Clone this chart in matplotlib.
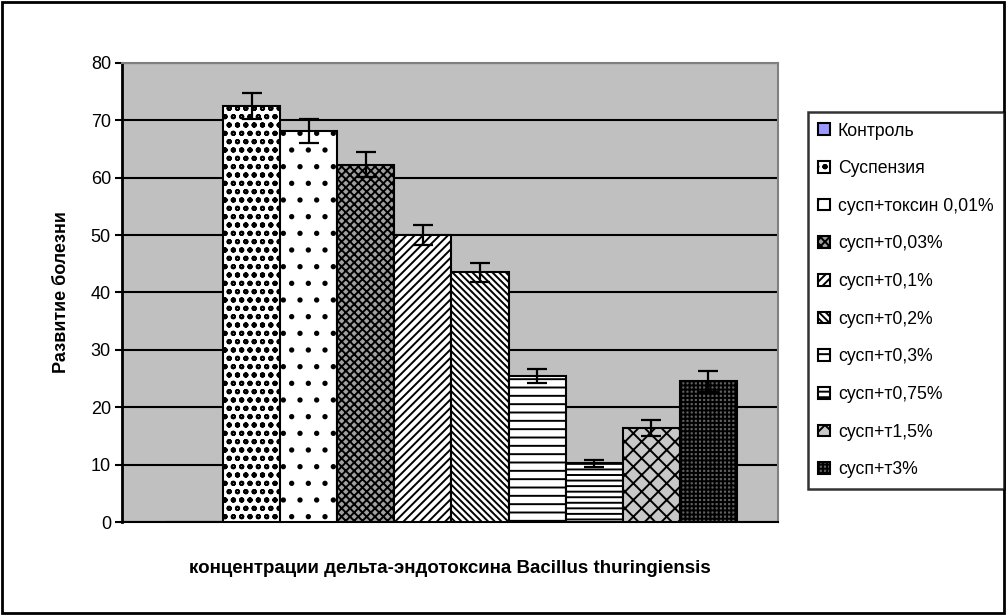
import numpy as np
import matplotlib
matplotlib.use("Agg")
import matplotlib.pyplot as plt
from matplotlib.patches import Rectangle

plt.rcParams['font.family'] = ['Liberation Sans', 'DejaVu Sans']
plt.rcParams['hatch.linewidth'] = 1.4

# Data
labels = ['Контроль', 'Суспензия', 'сусп+токсин 0,01%', 'сусп+т0,03%', 'сусп+т0,1%',
          'сусп+т0,2%', 'сусп+т0,3%', 'сусп+т0,75%', 'сусп+т1,5%', 'сусп+т3%']
values = [0, 72.5, 68.2, 62.3, 50.0, 43.5, 25.5, 10.2, 16.4, 24.5]
errors = [0, 2.2, 2.1, 2.2, 1.7, 1.6, 1.2, 0.6, 1.4, 1.9]

# Fill styles (facecolor, hatch)
faces = ['#9999FF', 'white', 'white', '#A0A0A0', 'white', 'white',
         'white', 'white', '#C8C8C8', '#606060']
hatches = ['', 'oo', '.', 'xxxx', '////', '\\\\\\\\\\', '--', '---', 'xx', '++++']

fig = plt.figure(figsize=(10.06, 6.15), dpi=100)
ax = fig.add_axes([0.1213, 0.1512, 0.6521, 0.7464])
ax.set_facecolor('#C0C0C0')

x = np.arange(len(values))
bars = []
for i in range(len(values)):
    b = ax.bar(x[i], values[i], width=1.0, color=faces[i], hatch=hatches[i],
               edgecolor='black', linewidth=1.5, label=labels[i], zorder=3)
    bars.append(b)
    if values[i] > 0:
        ax.errorbar(x[i], values[i], yerr=errors[i], color='black', elinewidth=1.6,
                    capsize=7.5, capthick=1.6, zorder=4)

ax.set_xlim(-1.27, 10.22)
ax.set_ylim(0, 80)
ax.set_yticks(np.arange(0, 81, 10))
ax.yaxis.grid(True, color='black', linewidth=1.5, zorder=1)
ax.set_axisbelow(True)
ax.set_xticks([])
ax.tick_params(axis='y', length=5, width=1.5, labelsize=13, direction='out', pad=3)
ax.spines['left'].set_linewidth(2)
ax.spines['bottom'].set_linewidth(1.5)
ax.spines['top'].set_color('#808080')
ax.spines['right'].set_color('#808080')
ax.spines['top'].set_linewidth(1.5)
ax.spines['right'].set_linewidth(1.5)

ax.set_ylabel('Развитие болезни', fontsize=13, fontweight='bold', labelpad=15)
ax.set_xlabel('концентрации дельта-эндотоксина Bacillus thuringiensis',
              fontsize=13.5, fontweight='bold', labelpad=27)

leg = fig.legend(handles=[b[0] for b in bars], labels=labels, loc='upper left',
                 bbox_to_anchor=(0.803, 0.818), fontsize=12.7, frameon=True,
                 fancybox=False, edgecolor='black', handlelength=0.65,
                 handleheight=0.65, handletextpad=0.45, labelspacing=1.17,
                 borderpad=0.6, borderaxespad=0)
leg.get_frame().set_linewidth(1.8)

# outer border of the chart
fig.patches.append(Rectangle((0.002, 0.003), 0.996, 0.994, transform=fig.transFigure,
                             fill=False, edgecolor='black', linewidth=2))

fig.savefig('out.png', dpi=100)
